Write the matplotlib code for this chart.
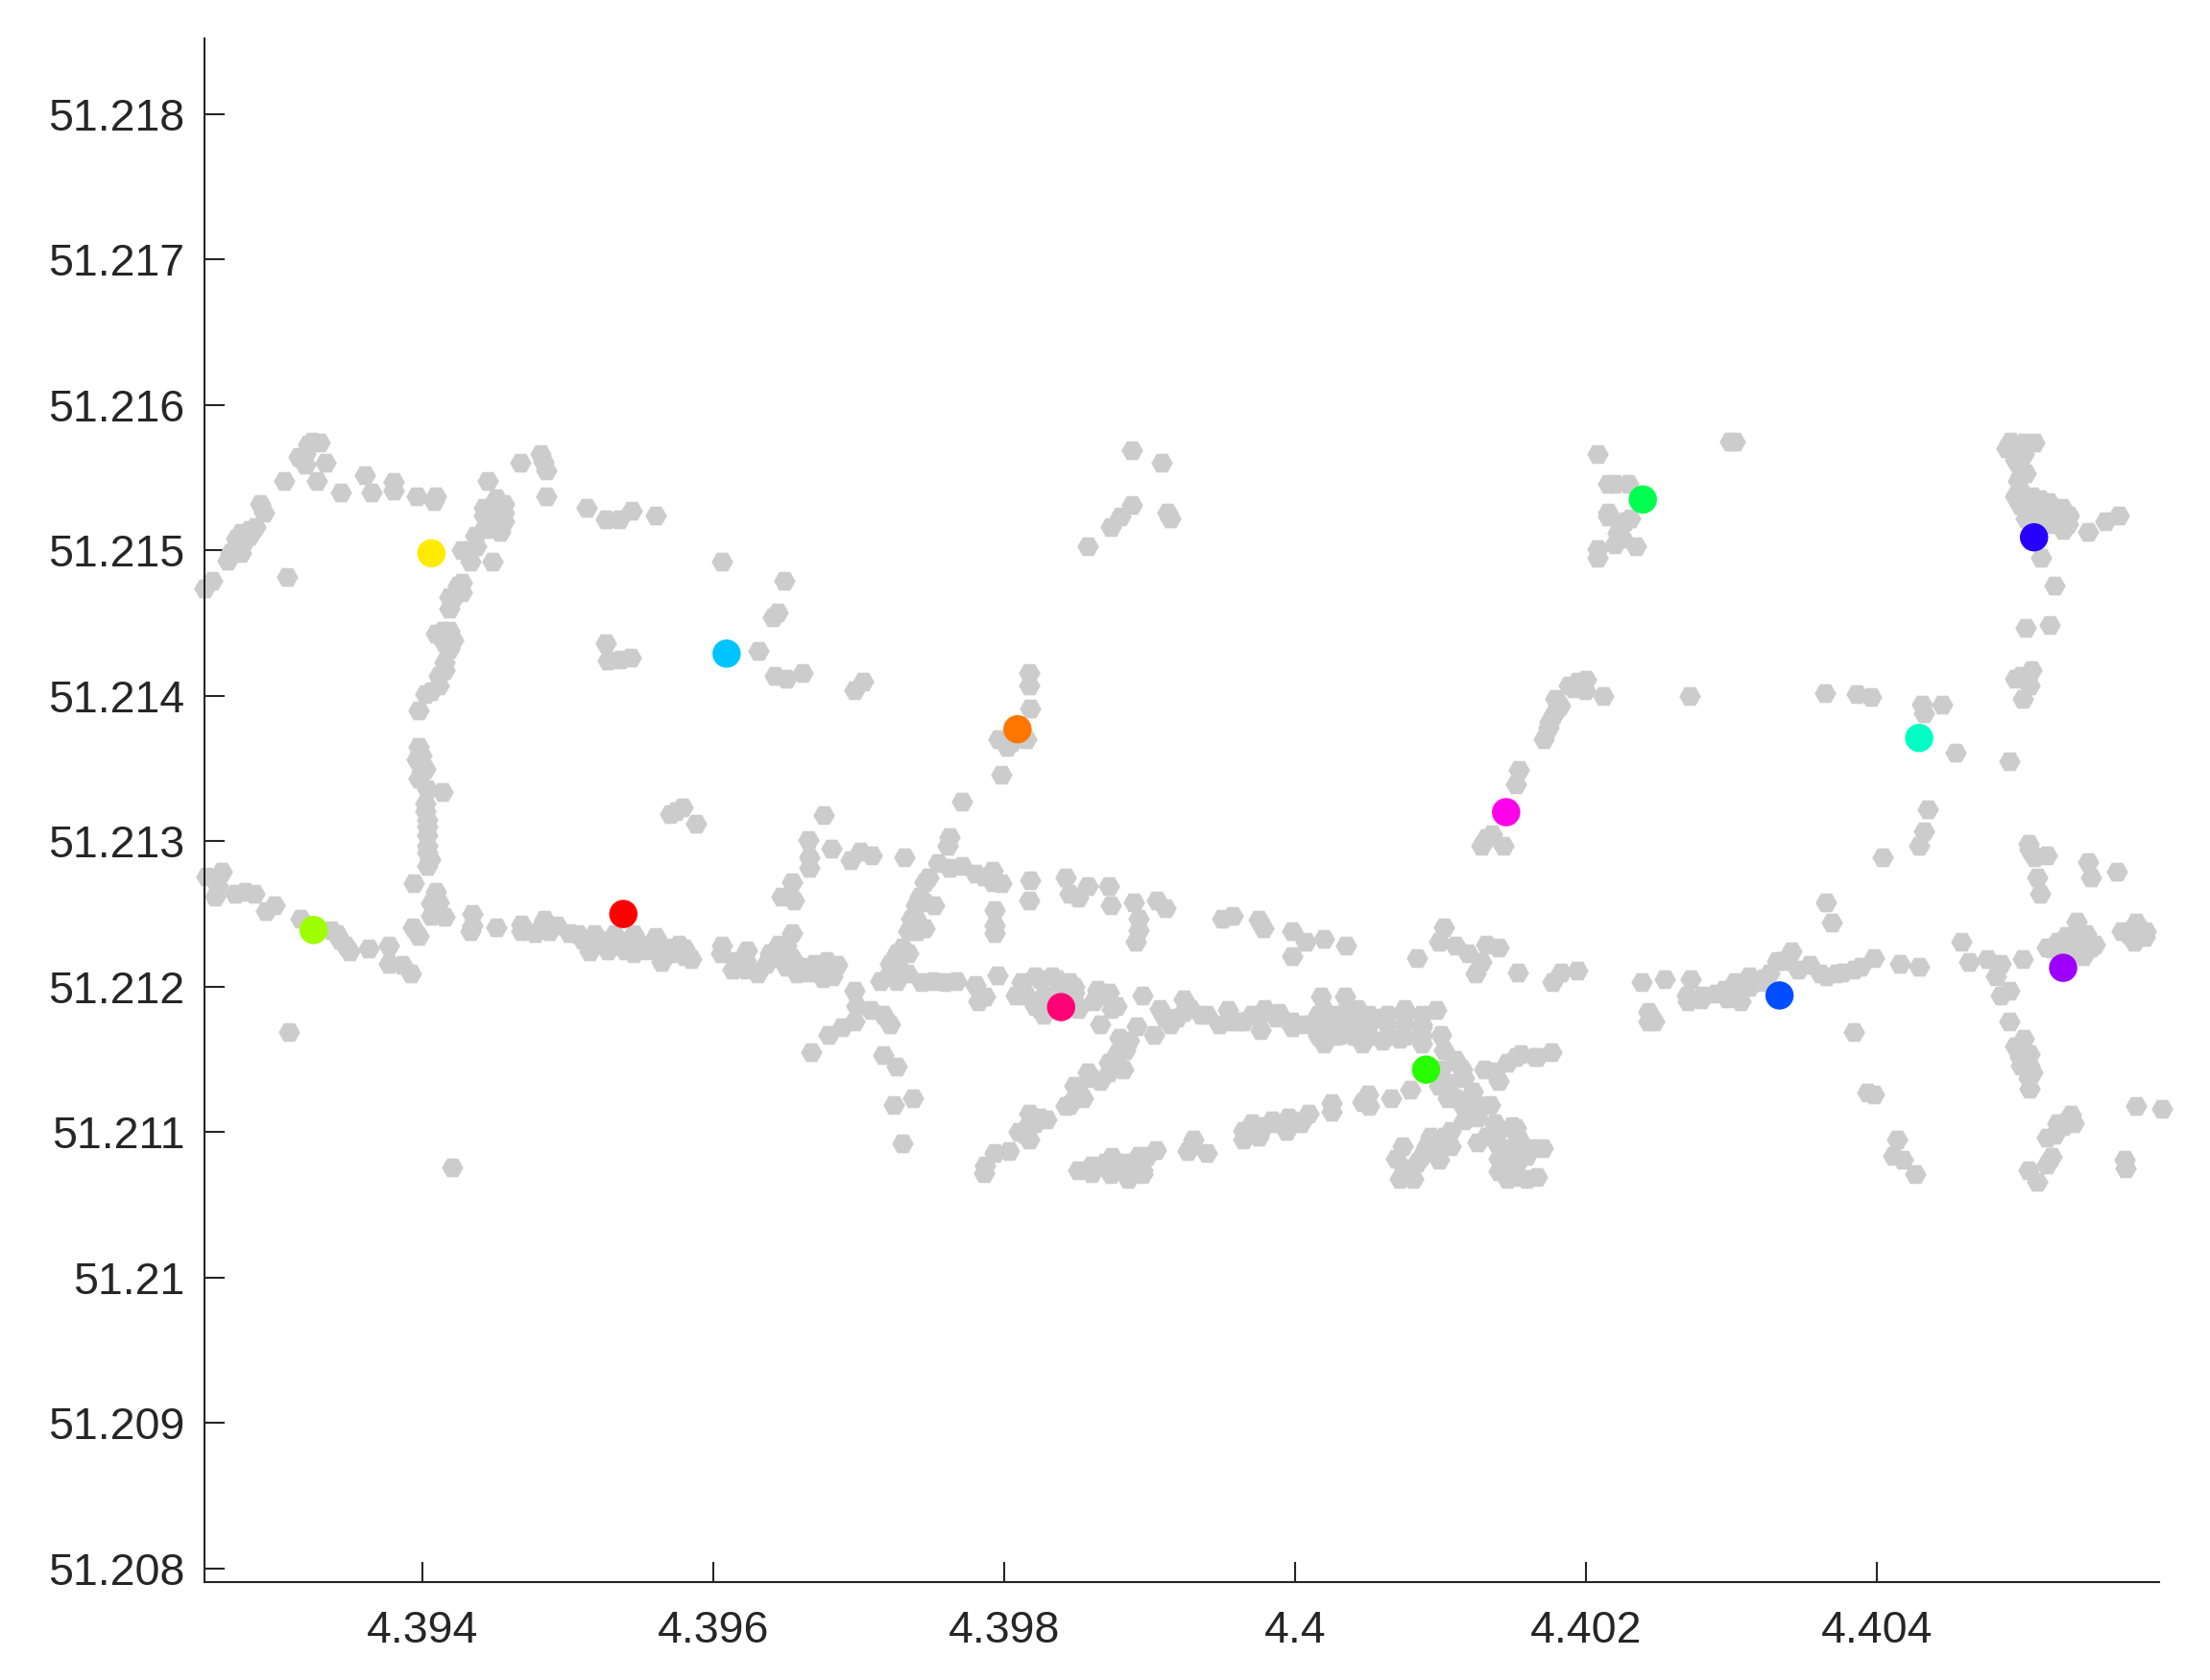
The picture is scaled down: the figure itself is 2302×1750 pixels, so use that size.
import numpy as np
import matplotlib
matplotlib.use('Agg')
import matplotlib.pyplot as plt

plt.rcParams['font.family'] = ['Liberation Sans', 'DejaVu Sans']

# (lon, lat) pairs, one list per area of the map
north_west = [(4.39250,51.21474),(4.39255,51.21479),(4.39266,51.21493),(4.39275,51.21498),(4.39271,51.21502),
    (4.39278,51.21507),(4.39272,51.21508),(4.39281,51.21514),(4.39275,51.21512),(4.39291,51.21526),(4.39288,51.21532),
    (4.39305,51.21548),(4.39327,51.21548),(4.39319,51.21559),(4.39319,51.21566),(4.39321,51.21573),(4.39329,51.21574),
    (4.39333,51.21560),(4.39344,51.21540),(4.39360,51.21552),(4.39365,51.21540),(4.39380,51.21547),(4.39380,51.21541),
    (4.39396,51.21537),(4.39408,51.21534),(4.39409,51.21537),(4.39445,51.21548),(4.39467,51.21560),(4.39481,51.21566),
    (4.39483,51.21561),(4.39485,51.21555),(4.39485,51.21537),(4.39513,51.21529),(4.39526,51.21521),(4.39535,51.21521),
    (4.39544,51.21527),(4.39560,51.21524),(4.39307,51.21482),(4.39281,51.21510),(4.39268,51.21498),(4.39274,51.21504),
    (4.39285,51.21516),(4.39315,51.21564),(4.39324,51.21575)]

west_vertical = [(4.39451,51.21531),(4.39456,51.21526),(4.39448,51.21522),(4.39442,51.21515),(4.39453,51.21513),
    (4.39456,51.21532),(4.39448,51.21529),(4.39437,51.21503),(4.39427,51.21500),(4.39433,51.21492),(4.39448,51.21492),
    (4.39427,51.21478),(4.39427,51.21471),(4.39418,51.21468),(4.39418,51.21460),(4.39414,51.21445),(4.39421,51.21438),
    (4.39415,51.21436),(4.39415,51.21423),(4.39411,51.21414),(4.39411,51.21407),(4.39402,51.21401),(4.39397,51.21390),
    (4.39397,51.21365),(4.39396,51.21356),(4.39402,51.21350),(4.39397,51.21343),(4.39403,51.21336),(4.39414,51.21334),
    (4.39402,51.21326),(4.39403,51.21315),(4.39403,51.21304),(4.39403,51.21292),(4.39403,51.21283),(4.39394,51.21271),
    (4.39409,51.21265),(4.39406,51.21257),(4.39415,51.21248),(4.39434,51.21250),(4.39433,51.21238),(4.39451,51.21241),
    (4.39393,51.21241),(4.39397,51.21235),(4.39402,51.21321),(4.39403,51.21310),(4.39403,51.21297),(4.39405,51.21288),
    (4.39409,51.21443),(4.39418,51.21445),(4.39415,51.21441),(4.39418,51.21432),(4.39399,51.21359),(4.39399,51.21348),
    (4.39424,51.21476),(4.39421,51.21467),(4.39406,51.21403),(4.39415,51.21418),(4.39442,51.21524),(4.39448,51.21515),
    (4.39456,51.21520),(4.39436,51.21510),(4.39451,51.21536),(4.39442,51.21529),(4.39406,51.21249),(4.39411,51.21258)]

west_scattered = [(4.39606,51.21492),(4.39649,51.21479),(4.39644,51.21457),(4.39641,51.21454),(4.39526,51.21436),
    (4.39527,51.21424),(4.39536,51.21425),(4.39543,51.21426),(4.39631,51.21431),(4.39642,51.21414),(4.39650,51.21412),
    (4.39661,51.21416),(4.39697,51.21404),(4.39703,51.21410),(4.39574,51.21321),(4.39570,51.21319),(4.39579,51.21323),
    (4.39588,51.21312),(4.39676,51.21318),(4.39665,51.21301),(4.39681,51.21295),(4.39694,51.21287),(4.39701,51.21293),
    (4.39666,51.21289),(4.39666,51.21282),(4.39654,51.21272),(4.39647,51.21262),(4.39655,51.21259),(4.39308,51.21169),
    (4.39420,51.21076)]

west_road = [(4.39251,51.21276),(4.39262,51.21279),(4.39259,51.21269),(4.39257,51.21262),(4.39271,51.21264),
    (4.39278,51.21265),(4.39284,51.21264),(4.39292,51.21252),(4.39298,51.21256),(4.39316,51.21247),(4.39337,51.21239),
    (4.39343,51.21232),(4.39350,51.21224),(4.39363,51.21226),(4.39377,51.21228),(4.39377,51.21216),(4.39386,51.21215),
    (4.39392,51.21209),(4.39468,51.21243),(4.39477,51.21237),(4.39484,51.21246),(4.39487,51.21238),(4.39501,51.21237),
    (4.39510,51.21232),(4.39515,51.21224),(4.39521,51.21232),(4.39532,51.21236),(4.39536,51.21228),(4.39545,51.21223),
    (4.39545,51.21236),(4.39554,51.21229),(4.39561,51.21232),(4.39564,51.21217),(4.39576,51.21229),(4.39585,51.21219),
    (4.39569,51.21227),(4.39580,51.21226),(4.39606,51.21228),(4.39605,51.21223),(4.39613,51.21212),(4.39623,51.21225),
    (4.39622,51.21212),(4.39630,51.21209),(4.39639,51.21223),(4.39636,51.21216),(4.39654,51.21237),(4.39650,51.21228),
    (4.39650,51.21214),(4.39660,51.21214),(4.39666,51.21210),(4.39675,51.21206),(4.39678,51.21218),(4.39685,51.21215),
    (4.39682,51.21207),(4.39697,51.21197),(4.39698,51.21187),(4.39697,51.21176),(4.39688,51.21172),(4.39679,51.21167),
    (4.39667,51.21155),(4.39507,51.21236),(4.39518,51.21236),(4.39530,51.21231),(4.39542,51.21231),(4.39554,51.21225),
    (4.39566,51.21225),(4.39574,51.21223),(4.39580,51.21221),(4.39560,51.21234),(4.39527,51.21225),(4.39539,51.21225),
    (4.39642,51.21220),(4.39654,51.21220),(4.39645,51.21229),(4.39669,51.21216),(4.39657,51.21209),(4.39675,51.21214),
    (4.39616,51.21218),(4.39622,51.21218),(4.39341,51.21236),(4.39347,51.21228),(4.39468,51.21238),(4.39481,51.21240),
    (4.39492,51.21242),(4.39434,51.21242)]

centre_loop = [(4.39771,51.21327),(4.39762,51.21303),(4.39761,51.21297),(4.39709,51.21290),(4.39731,51.21289),
    (4.39754,51.21285),(4.39771,51.21283),(4.39780,51.21278),(4.39792,51.21280),(4.39798,51.21271),(4.39745,51.21272),
    (4.39745,51.21258),(4.39752,51.21256),(4.39739,51.21247),(4.39745,51.21240),(4.39734,51.21238),(4.39730,51.21227),
    (4.39734,51.21223),(4.39721,51.21216),(4.39727,51.21214),(4.39715,51.21204),(4.39726,51.21204),(4.39743,51.21203),
    (4.39759,51.21203),(4.39767,51.21204),(4.39780,51.21201),(4.39795,51.21208),(4.39787,51.21193),(4.39782,51.21190),
    (4.39808,51.21194),(4.39818,51.21273),(4.39817,51.21259),(4.39793,51.21253),(4.39793,51.21242),(4.39793,51.21237),
    (4.39748,51.21275),(4.39739,51.21256),(4.39742,51.21262),(4.39736,51.21247),(4.39740,51.21238),(4.39726,51.21223),
    (4.39721,51.21210),(4.39733,51.21209),(4.39751,51.21204),(4.39762,51.21282),(4.39786,51.21276),(4.39792,51.21272)]

centre_north = [(4.39842,51.21275),(4.39845,51.21264),(4.39857,51.21269),(4.39851,51.21261),(4.39872,51.21269),
    (4.39873,51.21256),(4.39889,51.21258),(4.39905,51.21259),(4.39911,51.21254),(4.39892,51.21247),(4.39892,51.21239),
    (4.39890,51.21231),(4.39950,51.21247),(4.39957,51.21249),(4.39975,51.21246),(4.39978,51.21240),(4.39998,51.21238),
    (4.40007,51.21231),(4.40020,51.21233),(4.40035,51.21228),(4.39998,51.21221),(4.40084,51.21220),(4.40102,51.21241),
    (4.40099,51.21231),(4.40110,51.21228),(4.40119,51.21223),(4.40131,51.21229),(4.40140,51.21227),(4.40128,51.21217),
    (4.40124,51.21209),(4.40153,51.21210)]

centre_road = [(4.39821,51.21207),(4.39833,51.21207),(4.39845,51.21203),(4.39812,51.21196),(4.39821,51.21187),
    (4.39827,51.21181),(4.39833,51.21194),(4.39848,51.21196),(4.39864,51.21198),(4.39861,51.21190),(4.39874,51.21185),
    (4.39866,51.21174),(4.39851,51.21185),(4.39895,51.21194),(4.39891,51.21173),(4.39879,51.21165),(4.39903,51.21167),
    (4.39907,51.21185),(4.39914,51.21174),(4.39923,51.21191),(4.39923,51.21183),(4.39935,51.21181),(4.39954,51.21184),
    (4.39948,51.21174),(4.39960,51.21176),(4.39970,51.21181),(4.39979,51.21185),(4.39976,51.21170),(4.39989,51.21182),
    (4.39998,51.21172),(4.40018,51.21193),(4.40034,51.21193),(4.40020,51.21184),(4.40034,51.21183),(4.40043,51.21185),
    (4.40019,51.21174),(4.40020,51.21161),(4.40031,51.21167),(4.40046,51.21161),(4.40046,51.21172),(4.40060,51.21179),
    (4.40060,51.21163),(4.40075,51.21185),(4.40075,51.21174),(4.40072,51.21164),(4.40087,51.21172),(4.40097,51.21184),
    (4.40100,51.21167),(4.40087,51.21161)]

road_blob = [(4.40016,51.21181),(4.40028,51.21181),(4.40040,51.21181),(4.40051,51.21181),(4.40063,51.21181),
    (4.40075,51.21181),(4.40087,51.21181),(4.40016,51.21174),(4.40028,51.21174),(4.40040,51.21174),(4.40051,51.21174),
    (4.40063,51.21174),(4.40087,51.21174),(4.40016,51.21166),(4.40028,51.21166),(4.40040,51.21166),(4.40051,51.21166),
    (4.40063,51.21166),(4.40075,51.21166),(4.40087,51.21166),(4.39910,51.21179),(4.39919,51.21179),(4.39928,51.21185),
    (4.39939,51.21181),(4.39954,51.21176),(4.39964,51.21176),(4.39975,51.21179),(4.39987,51.21179),(4.39998,51.21176),
    (4.40007,51.21174),(4.40013,51.21172),(4.39812,51.21203),(4.39824,51.21205),(4.39836,51.21205),(4.39848,51.21200),
    (4.39815,51.21194),(4.39827,51.21194),(4.39839,51.21194),(4.39824,51.21185),(4.39848,51.21190),(4.39866,51.21194),
    (4.39872,51.21196),(4.39877,51.21187)]

diagonal = [(4.39886,51.21163),(4.39882,51.21143),(4.39872,51.21148),(4.39877,51.21154),(4.39857,51.21141),
    (4.39866,51.21135),(4.39848,51.21132),(4.39848,51.21123),(4.39842,51.21118),(4.39854,51.21123),(4.39817,51.21113),
    (4.39829,51.21109),(4.39817,51.21106),(4.39810,51.21100),(4.39817,51.21095),(4.39803,51.21087),(4.39793,51.21086),
    (4.39787,51.21077),(4.39786,51.21072),(4.39708,51.21184),(4.39717,51.21181),(4.39721,51.21174),(4.39717,51.21153),
    (4.39726,51.21145),(4.39724,51.21119),(4.39737,51.21123),(4.39730,51.21092),(4.39845,51.21119),(4.39851,51.21128),
    (4.39860,51.21137),(4.39872,51.21141),(4.39877,51.21148),(4.39883,51.21156),(4.39814,51.21099),(4.39821,51.21106),
    (4.39824,51.21110)]

south_strip = [(4.39851,51.21074),(4.39860,51.21072),(4.39869,51.21079),(4.39873,51.21071),(4.39874,51.21083),
    (4.39885,51.21068),(4.39883,51.21079),(4.39895,51.21074),(4.39892,51.21084),(4.39904,51.21088),(4.39895,51.21071),
    (4.39930,51.21095),(4.39926,51.21087),(4.39939,51.21086),(4.39964,51.21095),(4.39964,51.21101),(4.39970,51.21106),
    (4.39975,51.21097),(4.39984,51.21108),(4.39994,51.21101),(4.39995,51.21110),(4.40009,51.21113),(4.40025,51.21120),
    (4.40025,51.21114),(4.40046,51.21121),(4.40051,51.21118),(4.40050,51.21126),(4.40066,51.21123),(4.40079,51.21129),
    (4.39969,51.21099),(4.39978,51.21104),(4.39987,51.21106),(4.39998,51.21108),(4.40004,51.21106),(4.39877,51.21075),
    (4.39889,51.21075),(4.39898,51.21084),(4.39860,51.21077)]

junction = [(4.40102,51.21156),(4.40100,51.21143),(4.40115,51.21143),(4.40107,51.21134),(4.40105,51.21123),
    (4.40122,51.21128),(4.40116,51.21117),(4.40134,51.21119),(4.40130,51.21143),(4.40140,51.21135),(4.40146,51.21148),
    (4.40155,51.21154),(4.40165,51.21152),(4.40125,51.21110),(4.40107,51.21101),(4.40093,51.21097),(4.40090,51.21090),
    (4.40107,51.21090),(4.40074,51.21090),(4.40069,51.21082),(4.40099,51.21081),(4.40084,51.21079),(4.40072,51.21068),
    (4.40081,51.21068),(4.40125,51.21093),(4.40140,51.21101),(4.40149,51.21104),(4.40140,51.21090),(4.40155,51.21093),
    (4.40146,51.21079),(4.40146,51.21068),(4.40159,51.21084),(4.40159,51.21068),(4.40147,51.21089),(4.40152,51.21069),
    (4.40166,51.21069),(4.40162,51.21089),(4.40170,51.21089),(4.40152,51.21103),(4.40137,51.21103),(4.40152,51.21152),
    (4.40176,51.21155),(4.40166,51.21152),(4.40137,51.21142),(4.40110,51.21150),(4.40116,51.21137),(4.40125,51.21119),
    (4.40116,51.21108),(4.40102,51.21097),(4.40096,51.21090),(4.40087,51.21084),(4.40075,51.21075),(4.40131,51.21097),
    (4.40137,51.21106),(4.40152,51.21099),(4.40140,51.21082),(4.40152,51.21077),(4.40140,51.21073),(4.40099,51.21132),
    (4.40110,51.21123)]

north_centre = [(4.40131,51.21302),(4.40128,51.21297),(4.40143,51.21297),(4.40135,51.21305),(4.39888,51.21569),
    (4.39908,51.21560),(4.39888,51.21531),(4.39880,51.21523),(4.39873,51.21516),(4.39857,51.21503),(4.39912,51.21526),
    (4.39914,51.21522),(4.39817,51.21416),(4.39817,51.21407),(4.39818,51.21391),(4.39796,51.21370),(4.39802,51.21365),
    (4.39815,51.21370),(4.39798,51.21346),(4.40154,51.21349),(4.40152,51.21339),(4.40171,51.21370),(4.40174,51.21378),
    (4.40178,51.21388),(4.40182,51.21393),(4.40179,51.21398),(4.40188,51.21407),(4.40199,51.21404),(4.40200,51.21411),
    (4.40212,51.21400),(4.40194,51.21410),(4.40191,51.21405),(4.40181,51.21392),(4.40175,51.21382),(4.39805,51.21368)]

north_east = [(4.40299,51.21575),(4.40302,51.21575),(4.40208,51.21566),(4.40215,51.21546),(4.40229,51.21546),
    (4.40215,51.21526),(4.40230,51.21522),(4.40222,51.21512),(4.40220,51.21504),(4.40208,51.21501),(4.40208,51.21495),
    (4.40234,51.21503),(4.40492,51.21575),(4.40508,51.21574),(4.40494,51.21566),(4.40498,51.21557),(4.40499,51.21552),
    (4.40498,51.21542),(4.40512,51.21535),(4.40527,51.21529),(4.40504,51.21529),(4.40510,51.21520),(4.40531,51.21518),
    (4.40521,51.21518),(4.40528,51.21514),(4.40545,51.21513),(4.40557,51.21520),(4.40566,51.21524),(4.40513,51.21495),
    (4.40522,51.21476),(4.40502,51.21447),(4.40519,51.21449),(4.40506,51.21418),(4.40495,51.21412),(4.40505,51.21407),
    (4.40500,51.21398),(4.40271,51.21400),(4.40364,51.21402),(4.40386,51.21401),(4.40396,51.21399),(4.40431,51.21394),
    (4.40432,51.21388),(4.40445,51.21394),(4.40454,51.21361),(4.40491,51.21355),(4.40435,51.21322),(4.40432,51.21307),
    (4.40429,51.21297),(4.40504,51.21298),(4.40495,51.21537),(4.40507,51.21537),(4.40518,51.21533),(4.40498,51.21531),
    (4.40502,51.21522),(4.40515,51.21526),(4.40524,51.21522),(4.40515,51.21518),(4.40532,51.21524),(4.40495,51.21562),
    (4.40501,51.21566),(4.40489,51.21570),(4.40501,51.21574),(4.40497,51.21548),(4.40502,51.21553),(4.40507,51.21520),
    (4.40499,51.21414),(4.40220,51.21546),(4.40227,51.21520),(4.40225,51.21508),(4.40215,51.21523)]

east_side = [(4.40404,51.21289),(4.40505,51.21294),(4.40508,51.21289),(4.40517,51.21290),(4.40545,51.21286),
    (4.40547,51.21275),(4.40565,51.21279),(4.40510,51.21275),(4.40512,51.21264),(4.40365,51.21258),(4.40369,51.21244),
    (4.40458,51.21231),(4.40463,51.21217),(4.40476,51.21219),(4.40485,51.21216),(4.40482,51.21207),(4.40500,51.21219),
    (4.40491,51.21197),(4.40485,51.21194),(4.40491,51.21176),(4.40501,51.21164),(4.40495,51.21159),(4.40505,51.21154),
    (4.40499,51.21146),(4.40507,51.21141),(4.40505,51.21130),(4.40537,51.21245),(4.40538,51.21238),(4.40524,51.21231),
    (4.40544,51.21231),(4.40520,51.21226),(4.40535,51.21225),(4.40547,51.21227),(4.40542,51.21221),(4.40568,51.21238),
    (4.40578,51.21240),(4.40584,51.21234),(4.40577,51.21231),(4.40578,51.21118),(4.40596,51.21116),(4.40533,51.21112),
    (4.40535,51.21106),(4.40524,51.21106),(4.40517,51.21096),(4.40522,51.21098),(4.40520,51.21083),(4.40517,51.21078),
    (4.40504,51.21074),(4.40510,51.21066),(4.40570,51.21081),(4.40571,51.21075),(4.40393,51.21127),(4.40398,51.21126),
    (4.40414,51.21095),(4.40411,51.21084),(4.40418,51.21081),(4.40426,51.21071),(4.40384,51.21169),(4.40530,51.21229),
    (4.40538,51.21229),(4.40550,51.21229),(4.40532,51.21225),(4.40541,51.21225),(4.40517,51.21227),(4.40530,51.21235),
    (4.40544,51.21236),(4.40573,51.21236),(4.40581,51.21236),(4.40578,51.21244),(4.40585,51.21238),(4.40501,51.21157),
    (4.40498,51.21152),(4.40505,51.21146),(4.40504,51.21137),(4.40528,51.21104)]

east_road = [(4.40177,51.21203),(4.40183,51.21210),(4.40194,51.21211),(4.40238,51.21203),(4.40254,51.21205),
    (4.40272,51.21205),(4.40270,51.21190),(4.40279,51.21191),(4.40289,51.21195),(4.40297,51.21192),(4.40306,51.21190),
    (4.40302,51.21203),(4.40312,51.21207),(4.40322,51.21206),(4.40331,51.21218),(4.40341,51.21224),(4.40346,51.21212),
    (4.40354,51.21215),(4.40365,51.21207),(4.40376,51.21210),(4.40389,51.21214),(4.40398,51.21220),(4.40416,51.21216),
    (4.40429,51.21214),(4.40243,51.21183),(4.40243,51.21176),(4.40247,51.21176),(4.40280,51.21194),(4.40269,51.21194),
    (4.40295,51.21198),(4.40303,51.21196),(4.40312,51.21200),(4.40321,51.21203),(4.40326,51.21209),(4.40335,51.21218),
    (4.40361,51.21209),(4.40372,51.21209),(4.40384,51.21212)]

centre_lon = [4.39538, 4.39809, 4.39406, 4.39325, 4.40090, 4.40239, 4.40429, 4.39609, 4.40333, 4.40508, 4.40528, 4.40145, 4.39839]
centre_lat = [51.21250, 51.21377, 51.21498, 51.21239, 51.21143, 51.21535, 51.21371, 51.21429, 51.21194, 51.21509, 51.21213, 51.21320, 51.21186]
centre_colors = ['#ff0000', '#ff7700', '#ffeb00', '#9dff00', '#27ff00', '#00ff4e', '#00ffc4',
                 '#00c4ff', '#004eff', '#2700ff', '#9d00ff', '#ff00eb', '#ff0076']

x_ticks = [4.394, 4.396, 4.398, 4.4, 4.402, 4.404]
x_labels = ['4.394', '4.396', '4.398', '4.4', '4.402', '4.404']
y_ticks = [51.208, 51.209, 51.21, 51.211, 51.212, 51.213, 51.214, 51.215, 51.216, 51.217, 51.218]
y_labels = ['51.208', '51.209', '51.21', '51.211', '51.212', '51.213', '51.214', '51.215', '51.216', '51.217', '51.218']

points = np.array(north_west + west_vertical + west_scattered + west_road + centre_loop + centre_north + centre_road
                  + road_blob + diagonal + south_strip + junction + north_centre + north_east + east_side + east_road)

fig = plt.figure(figsize=(23.02, 17.5), dpi=100)
ax = fig.add_axes([213 / 2302, 1 - 1647.5 / 1750, (2249 - 213) / 2302, (1647.5 - 40) / 1750])

ax.scatter(points[:, 0], points[:, 1], s=265, marker='H', color='#cccccc', linewidths=0, clip_on=False, zorder=2)
ax.scatter(centre_lon, centre_lat, s=450, marker='o', c=centre_colors, linewidths=0, clip_on=False, zorder=3)

ax.set_xlim(4.39250, 4.40594)
ax.set_ylim(51.20791, 51.21852)
ax.spines['top'].set_visible(False)
ax.spines['right'].set_visible(False)
ax.spines['left'].set_color('#262626')
ax.spines['bottom'].set_color('#262626')
ax.spines['left'].set_linewidth(1.5)
ax.spines['bottom'].set_linewidth(1.5)

ax.set_xticks(x_ticks)
ax.set_xticklabels(x_labels)
ax.set_yticks(y_ticks)
ax.set_yticklabels(y_labels)
ax.tick_params(axis='both', direction='in', length=15, width=1.5, color='#262626', labelcolor='#262626', labelsize=33.5)
ax.tick_params(axis='x', pad=21)
ax.tick_params(axis='y', pad=15)

fig.savefig('out.png', dpi=100, facecolor='white')
